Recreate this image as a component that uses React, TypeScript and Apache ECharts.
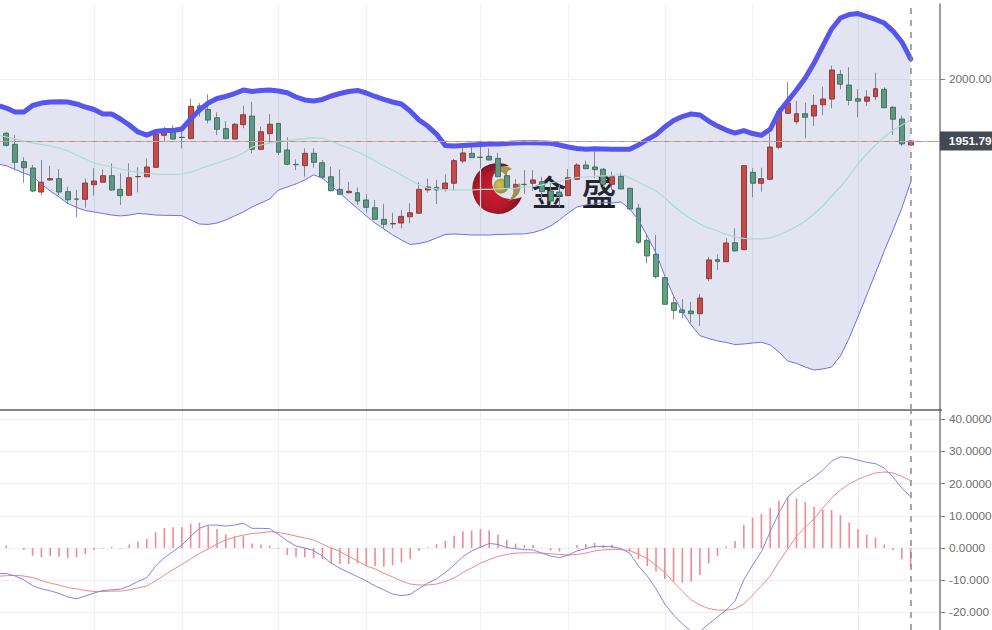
import React, { useEffect, useRef } from "react";
import * as echarts from "echarts";

// [open, close, low, high]
const candles: number[][] = [
  [1959.6,1957.2,1955.7,1961.1],[1957.8,1948.4,1947.4,1959.0],[1949.2,1935.2,1929.2,1956.4],[1935.7,1931.0,1919.4,1939.1],
  [1930.8,1912.9,1911.9,1933.1],[1912.1,1919.7,1909.6,1937.0],[1921.5,1922.5,1920.9,1932.6],[1922.5,1912.1,1909.8,1930.0],
  [1912.4,1906.1,1902.8,1916.2],[1906.7,1906.5,1892.5,1913.7],[1906.4,1919.1,1899.9,1922.5],[1917.8,1920.7,1909.3,1930.6],
  [1919.7,1924.8,1919.4,1929.8],[1924.8,1913.7,1913.1,1934.4],[1914.2,1909.3,1902.0,1926.7],[1909.6,1923.2,1909.3,1934.4],
  [1924.0,1924.2,1911.9,1931.3],[1924.0,1931.6,1923.6,1938.3],[1931.3,1957.0,1930.8,1957.8],[1956.2,1959.8,1951.8,1962.9],
  [1960.3,1953.3,1952.6,1964.2],[1954.7,1954.5,1946.1,1962.7],[1953.6,1978.8,1953.3,1984.4],[1979.0,1975.4,1970.7,1981.3],
  [1976.4,1968.1,1965.5,1988.1],[1969.9,1960.9,1956.4,1974.1],[1961.4,1953.6,1953.1,1967.3],[1953.3,1964.8,1953.1,1965.8],
  [1964.5,1972.2,1961.7,1979.2],[1971.2,1945.3,1942.2,1982.3],[1945.3,1959.0,1944.8,1962.9],[1957.5,1964.8,1950.0,1972.6],
  [1965.5,1943.0,1940.9,1965.8],[1944.8,1933.7,1932.9,1954.7],[1933.6,1933.3,1929.2,1937.5],[1932.6,1942.2,1924.0,1946.1],
  [1942.2,1935.2,1931.0,1946.1],[1934.9,1923.6,1922.0,1937.0],[1924.0,1913.1,1912.7,1931.8],[1914.2,1910.3,1909.8,1929.8],
  [1911.6,1912.7,1911.1,1919.9],[1911.6,1905.1,1902.0,1915.5],[1905.9,1900.2,1896.0,1910.6],[1899.9,1890.9,1890.4,1905.9],
  [1890.9,1887.0,1883.9,1902.8],[1887.3,1887.7,1883.9,1896.0],[1888.0,1893.2,1883.9,1898.1],[1892.9,1896.0,1887.8,1903.3],
  [1895.6,1914.2,1895.3,1919.7],[1913.7,1916.0,1911.6,1922.5],[1915.8,1913.7,1902.8,1921.5],[1914.5,1919.1,1912.4,1925.9],
  [1918.9,1936.5,1913.1,1937.8],[1936.2,1942.5,1934.4,1948.7],[1942.2,1938.8,1938.6,1950.2],[1939.2,1939.0,1930.6,1952.0],
  [1939.9,1937.0,1936.5,1946.1],[1938.3,1924.0,1923.6,1942.5],[1924.8,1915.5,1914.2,1926.7],[1915.5,1918.1,1912.4,1922.2],
  [1918.1,1917.9,1910.6,1929.2],[1918.9,1921.5,1913.1,1929.2],[1920.1,1912.4,1905.9,1924.0],[1912.9,1905.1,1901.2,1919.1],
  [1912.1,1909.0,1900.4,1917.6],[1909.3,1923.2,1909.0,1930.0],[1922.0,1933.1,1921.5,1934.7],[1933.1,1930.3,1929.8,1936.5],
  [1931.6,1929.5,1922.8,1943.5],[1929.8,1918.1,1916.2,1930.8],[1918.1,1924.0,1913.7,1927.9],[1924.3,1914.5,1914.2,1927.1],
  [1915.0,1898.9,1898.1,1915.5],[1899.5,1873.0,1871.7,1902.8],[1874.6,1862.4,1856.7,1878.7],[1863.7,1846.3,1844.7,1878.7],
  [1845.5,1824.8,1824.5,1846.3],[1826.0,1820.1,1813.1,1830.7],[1820.4,1818.3,1813.9,1828.9],[1819.6,1817.5,1810.5,1826.8],
  [1817.5,1829.7,1807.9,1832.8],[1844.7,1859.3,1842.9,1861.8],[1859.5,1858.2,1851.5,1863.7],[1857.9,1872.5,1857.5,1876.1],
  [1872.7,1866.3,1865.7,1883.9],[1867.3,1932.6,1867.0,1933.1],[1927.4,1918.9,1908.0,1930.6],[1918.9,1922.5,1912.4,1931.0],
  [1922.0,1947.1,1921.5,1957.8],[1946.9,1974.6,1945.3,1977.2],[1973.3,1981.1,1972.8,1997.9],[1966.8,1973.0,1964.8,1983.1],
  [1973.0,1970.2,1953.9,1981.6],[1971.2,1979.5,1963.5,1987.6],[1980.0,1984.4,1971.8,1994.0],[1984.4,2007.0,1977.2,2010.3],
  [2003.6,1995.9,1992.0,2007.0],[1995.3,1983.4,1979.5,2009.1],[1984.7,1982.7,1970.2,1992.2],[1982.7,1986.0,1979.0,1991.2],
  [1986.2,1992.5,1983.7,2004.9],[1992.0,1977.7,1977.2,1993.5],[1978.0,1968.7,1956.5,1979.0],[1968.9,1949.5,1947.9,1971.5],
  [1948.7,1951.79,1948.1,1952.6],
];

const upperBand = [
  1979.4,1977.4,1974.3,1974.3,1979.4,1981.3,1982.1,1982.3,1982.1,1980.6,1978.2,1976.3,1972.8,1972.8,1968.9,1964.2,1958.8,1956.4,1959.2,1959.9,
  1959.9,1961.1,1968.9,1975.9,1981.3,1984.8,1986.4,1988.7,1991.4,1990.3,1991.1,1991.4,1990.7,1989.3,1986.0,1983.7,1982.9,1984.1,1986.8,1988.7,
  1990.3,1991.1,1989.1,1986.4,1984.1,1982.1,1980.6,1975.1,1968.1,1963.4,1957.2,1948.3,1947.9,1948.3,1948.7,1949.1,1949.5,1949.5,1949.9,1950.2,
  1950.5,1950.5,1950.2,1950.0,1948.7,1947.1,1945.9,1945.3,1945.8,1945.6,1945.3,1945.3,1945.3,1948.7,1952.9,1956.8,1962.7,1967.7,1970.8,1972.8,
  1972.0,1967.3,1963.4,1960.3,1958.0,1959.9,1957.6,1956.2,1960.9,1974.3,1982.9,1991.4,2000.8,2012.4,2025.7,2038.9,2047.4,2050.2,2050.9,2048.6,
  2046.3,2043.5,2037.3,2028.8,2015.6,
];
const lowerBand = [
  1933.9,1932.6,1929.6,1926.9,1924.2,1918.4,1912.9,1908.3,1903.2,1900.1,1897.7,1896.6,1895.4,1894.2,1893.5,1894.2,1895.4,1895.0,1894.2,1894.0,
  1893.9,1893.7,1890.4,1887.2,1886.9,1888.0,1890.4,1893.5,1896.6,1900.5,1903.6,1906.7,1913.7,1916.0,1918.4,1921.5,1925.4,1923.0,1916.8,1911.4,
  1905.1,1899.3,1893.5,1888.0,1883.4,1878.7,1874.8,1871.3,1872.1,1873.6,1876.4,1879.1,1879.5,1879.1,1878.7,1878.7,1878.7,1879.1,1879.2,1879.5,
  1879.5,1880.6,1882.6,1885.7,1890.4,1895.8,1900.5,1902.0,1902.8,1904.0,1903.6,1904.4,1898.9,1890.4,1877.9,1864.7,1846.8,1831.3,1818.8,1808.7,
  1800.4,1798.2,1796.3,1795.1,1793.5,1793.9,1794.7,1795.3,1793.2,1787.7,1780.7,1778.8,1776.0,1773.7,1774.5,1776.0,1784.6,1798.6,1815.0,1832.0,
  1849.1,1866.3,1882.6,1899.7,1919.9,
];
const middleBand = [
  1956.4,1954.9,1953.3,1951.8,1950.2,1949.1,1947.9,1946.3,1944.0,1940.9,1937.8,1934.7,1933.1,1931.6,1930.0,1928.5,1927.3,1926.5,1926.1,1925.9,
  1925.9,1926.1,1927.7,1930.0,1932.4,1934.7,1937.0,1939.3,1942.5,1947.1,1948.7,1950.2,1951.4,1952.2,1952.9,1953.7,1954.4,1953.9,1951.8,1948.7,
  1946.3,1943.2,1940.1,1936.2,1932.4,1929.2,1925.3,1921.5,1917.6,1915.2,1914.5,1913.7,1913.7,1913.7,1913.7,1914.1,1914.2,1914.5,1914.9,1915.2,
  1916.0,1916.2,1917.6,1919.1,1920.7,1922.2,1923.4,1923.8,1924.2,1924.6,1924.9,1926.1,1923.0,1919.9,1916.4,1912.9,1907.5,1901.2,1895.8,1891.1,
  1887.2,1884.1,1881.8,1879.1,1877.1,1876.0,1875.6,1875.6,1876.4,1878.7,1881.8,1885.3,1889.6,1895.0,1901.2,1909.0,1916.2,1924.6,1933.9,1941.7,
  1948.7,1954.9,1960.3,1964.2,1968.1,
];
const difLine = [
  -8.0,-7.9,-8.7,-9.9,-11.7,-12.7,-13.3,-14.1,-15.2,-15.8,-14.9,-14.0,-13.2,-13.0,-12.8,-11.8,-10.4,-9.2,-5.6,-3.0,
  -1.1,0.9,3.6,6.1,7.1,7.1,6.8,7.1,7.7,6.1,6.1,6.0,4.2,2.2,0.6,0,-0.8,-2.5,-4.7,-6.3,
  -7.6,-8.9,-10.2,-11.8,-13.0,-14.3,-14.8,-14.4,-12.6,-10.9,-9.6,-7.6,-5.3,-2.7,-0.9,0.3,1.4,1.1,0.1,-0.2,
  -0.5,-0.6,-1.6,-2.5,-3.0,-2.2,-0.9,-0.2,0.5,0.5,0.4,-0.2,-1.6,-5.6,-8.7,-12.7,-17.4,-20.8,-23.6,-25.8,
  -25.9,-23.6,-21.4,-19.3,-16.5,-9.9,-5.3,-1.2,5.0,10.9,15.8,18.3,20.2,22.0,24.2,27.0,28.3,28.0,27.3,26.6,
  26.2,24.8,22.0,18.6,15.9,
];
const deaLine = [
  -8.8,-8.6,-8.5,-8.7,-9.2,-10.1,-10.9,-11.5,-12.3,-12.7,-13.2,-13.5,-13.5,-13.4,-13.4,-13.0,-12.4,-11.8,-10.2,-8.4,
  -6.7,-5.1,-3.4,-1.7,-0.3,1.2,2.5,3.4,4.0,4.5,4.7,5.1,4.8,4.3,3.7,3.1,2.5,1.2,0,-1.1,
  -2.6,-4.0,-5.6,-6.5,-7.8,-9.0,-10.2,-11.2,-11.5,-11.5,-11.2,-10.4,-9.3,-7.6,-6.2,-4.7,-3.6,-2.6,-2.0,-1.6,
  -1.5,-1.5,-1.6,-1.8,-2.0,-2.2,-2.0,-1.6,-0.9,-0.6,-0.4,-0.5,-0.8,-1.9,-3.3,-5.4,-7.6,-10.6,-13.4,-16.1,
  -17.7,-18.8,-19.3,-19.3,-18.9,-17.4,-14.6,-11.8,-8.7,-4.3,-0.3,3.6,6.5,9.0,12.4,15.5,18.0,19.9,21.3,22.4,
  23.3,23.6,23.3,22.2,20.9,
];
const histogram = [
  0,0.8,0,-0.6,-2.4,-2.9,-2.5,-2.7,-3.2,-2.9,-1.9,-0.6,-0.2,0.4,-0.2,1.1,2.0,2.8,4.9,6.2,
  6.4,6.4,7.5,7.9,6.9,5.9,4.2,3.5,3.7,1.4,1.1,0.8,-0.3,-2.2,-2.9,-2.9,-3.2,-3.5,-4.8,-5.0,
  -5.0,-4.8,-5.5,-5.6,-5.8,-5.4,-4.5,-3.5,-0.9,0.2,1.2,2.2,3.8,5.2,5.4,5.9,5.5,4.2,2.5,1.4,
  0.9,0.9,0.1,-0.8,-1.1,-0.1,0.9,1.2,1.6,0.9,1.0,0.1,-1.1,-3.5,-5.6,-7.3,-9.6,-10.5,-10.8,-10.4,
  -8.4,-4.8,-2.5,0.4,2.2,7.1,9.4,10.6,12.4,14.7,15.9,15.4,14.2,12.7,11.8,11.8,10.2,7.9,5.9,4.1,
  3.2,1.1,-0.7,-3.5,-6.0,
];

const lastPrice = 1951.79;
const lastIndex = candles.length - 1;
const categories = Array.from({ length: candles.length + 3 }, (_, i) => String(i));
const verticalGridIndices = [11, 21, 32, 42, 55, 65, 76, 86, 98];
const priceTicks = [2000];
const macdTicks = [-20, -10, 0, 10, 20, 30, 40];

const crescent =
  "M509 165.5 A25.5 25.5 0 1 0 521.8 197 C506 203 491 195 492 180 C492.7 172 500 167.5 509 165.5 Z";
const swooshTop =
  "M494 172 C499 165 507 165 512 169 C509 170 507 171 506 176 C504 172 499 170 494 172 Z";
const swooshBottom =
  "M520 183 C522 191 517 199 508 201 C513 197 514 192 513 187 C515 187 518 185 520 183 Z";
echarts.graphic.registerShape("jsCrescent", echarts.graphic.extendPath(crescent, {}));
echarts.graphic.registerShape("jsSwooshTop", echarts.graphic.extendPath(swooshTop, {}));
echarts.graphic.registerShape("jsSwooshBottom", echarts.graphic.extendPath(swooshBottom, {}));

const FONT = "Liberation Sans";
const gold = new echarts.graphic.LinearGradient(0, 0, 1, 1, [
  { offset: 0, color: "#c6b25a" },
  { offset: 1, color: "#a88d1e" },
]);

export default function App() {
  const ref = useRef<HTMLDivElement>(null);
  useEffect(() => {
    document.body.style.margin = "0";
    const chart = echarts.init(ref.current!, null, { renderer: "svg" });
    const splitX = {
      show: true,
      alignWithLabel: true,
      interval: (i: number) => verticalGridIndices.includes(i),
      lineStyle: { color: "#eef0f4", width: 1.2 },
    };
    const cursorLine = {
      silent: true,
      symbol: "none",
      animation: false,
      label: { show: false },
      lineStyle: { color: "#8a8a8a", type: [6, 6], width: 1.5 },
      data: [{ xAxis: String(lastIndex) }],
    };
    const yCommon = {
      type: "value",
      position: "right",
      offset: -1.37,
      axisLine: { show: true, onZero: false, lineStyle: { color: "#7d7d7d", width: 1.5 } },
      axisLabel: { color: "#6e6e6e", fontFamily: FONT, fontSize: 11.8, margin: 9 },
    };
    chart.setOption({
      animation: false,
      backgroundColor: "#ffffff",
      grid: [
        { left: -6.87, top: 4, width: 948.24, height: 406, outerBoundsMode: "none" },
        { left: -6.87, top: 410, width: 948.24, height: 220, outerBoundsMode: "none" },
      ],
      xAxis: [
        {
          type: "category",
          data: categories,
          gridIndex: 0,
          boundaryGap: true,
          axisLine: { show: true, lineStyle: { color: "#5c5c5c", width: 1.5 } },
          axisTick: { show: false, alignWithLabel: true },
          axisLabel: { show: false },
          splitLine: splitX,
        },
        {
          type: "category",
          data: categories,
          gridIndex: 1,
          boundaryGap: true,
          axisLine: { show: false },
          axisTick: { show: false, alignWithLabel: true },
          axisLabel: { show: false },
          splitLine: splitX,
        },
      ],
      yAxis: [
        {
          ...yCommon,
          gridIndex: 0,
          min: 1742.6,
          max: 2058.32,
          axisTick: { show: true, length: 5, customValues: priceTicks, lineStyle: { color: "#7d7d7d" } },
          axisLabel: { ...yCommon.axisLabel, customValues: priceTicks, formatter: (v: number) => v.toFixed(2) },
          splitLine: { show: true, lineStyle: { color: "#eef0f3", width: 1 } },
        },
        {
          ...yCommon,
          gridIndex: 1,
          min: -25.47,
          max: 42.85,
          axisTick: { show: true, length: 5, customValues: macdTicks, lineStyle: { color: "#7d7d7d" } },
          axisLabel: {
            ...yCommon.axisLabel,
            customValues: macdTicks,
            formatter: (v: number) => (v < 0 ? v.toFixed(3) : v.toFixed(4)),
          },
          splitLine: { show: true, lineStyle: { color: "#eef0f3", width: 1 } },
        },
      ],
      series: [
        {
          type: "line",
          name: "bandBase",
          stack: "band",
          data: lowerBand,
          symbol: "none",
          lineStyle: { opacity: 0 },
          areaStyle: { opacity: 0 },
        },
        {
          type: "line",
          name: "bandFill",
          stack: "band",
          data: upperBand.map((u, i) => +(u - lowerBand[i]).toFixed(2)),
          symbol: "none",
          lineStyle: { opacity: 0 },
          areaStyle: { color: "rgba(78,84,170,0.16)", opacity: 1 },
        },
        {
          type: "line",
          name: "lower",
          data: lowerBand,
          symbol: "none",
          lineStyle: { color: "#6f70e2", width: 1 },
        },
        {
          type: "line",
          name: "middle",
          data: middleBand,
          symbol: "none",
          lineStyle: { color: "#a9dcd2", width: 1.2 },
        },
        {
          type: "line",
          name: "upper",
          data: upperBand,
          symbol: "none",
          lineStyle: { color: "#5656ee", width: 5, cap: "round", join: "round" },
          markLine: {
            silent: true,
            symbol: "none",
            animation: false,
            lineStyle: { color: "#e6a39a", type: "solid", width: 1 },
            label: { show: false },
            data: [{ yAxis: lastPrice }],
          },
        },
        {
          type: "line",
          name: "lastPriceDash",
          data: [],
          markLine: {
            silent: true,
            symbol: "none",
            animation: false,
            lineStyle: { color: "#9a9a9a", type: [5, 6], width: 1 },
            label: {
              show: true,
              position: "end",
              distance: -1.5,
              formatter: () => lastPrice.toFixed(2),
              color: "#ffffff",
              fontFamily: FONT,
              fontWeight: "bold",
              fontSize: 11.8,
              backgroundColor: "#444a55",
              padding: [4, 2, 3, 9],
            },
            data: [{ yAxis: lastPrice }],
          },
        },
        {
          type: "candlestick",
          name: "wick",
          data: candles,
          barWidth: 1,
          itemStyle: { color: "#8f8f8f", color0: "#8f8f8f", borderColor: "#8f8f8f", borderColor0: "#8f8f8f", borderWidth: 1 },
        },
        {
          type: "candlestick",
          name: "body",
          data: candles.map(([o, c]) => [o, c, Math.min(o, c), Math.max(o, c)]),
          barWidth: 5.4,
          itemStyle: { color: "#dc4a34", color0: "#62a37e", borderColor: "#8a3026", borderColor0: "#35704f", borderWidth: 0.9 },
          markLine: cursorLine,
        },
        {
          type: "bar",
          name: "MACD",
          xAxisIndex: 1,
          yAxisIndex: 1,
          data: histogram,
          barWidth: 1.6,
          itemStyle: { color: "#f28a96" },
        },
        {
          type: "line",
          name: "DEA",
          xAxisIndex: 1,
          yAxisIndex: 1,
          data: deaLine,
          symbol: "none",
          lineStyle: { color: "#ee8888", width: 1 },
        },
        {
          type: "line",
          name: "DIF",
          xAxisIndex: 1,
          yAxisIndex: 1,
          data: difLine,
          symbol: "none",
          lineStyle: { color: "#8484e6", width: 1 },
          markLine: cursorLine,
        },
      ],
      graphic: [
        {
          type: "group",
          z: 100,
          children: [
            {
              type: "jsCrescent",
              x: 0,
              y: 0,
              style: {
                fill: new echarts.graphic.RadialGradient(0.45, 0.55, 0.6, [
                  { offset: 0, color: "#e8141a" },
                  { offset: 0.6, color: "#c40c12" },
                  { offset: 1, color: "#6e0a0c" },
                ]),
              },
            },
            { type: "jsSwooshTop", x: 0, y: 0, style: { fill: gold } },
            { type: "jsSwooshBottom", x: 0, y: 0, style: { fill: gold } },
            {
              type: "circle",
              shape: { cx: 501, cy: 186, r: 7.5 },
              style: {
                fill: new echarts.graphic.RadialGradient(0.4, 0.4, 0.7, [
                  { offset: 0, color: "#ecd94a" },
                  { offset: 1, color: "#ad8a12" },
                ]),
              },
            },
            {
              type: "text",
              x: 549,
              y: 190,
              style: {
                text: "金",
                fontFamily: "Noto Sans CJK SC",
                fontSize: 35,
                fontWeight: 500,
                fill: "#1c1c1c",
                align: "center",
                verticalAlign: "middle",
              },
            },
            {
              type: "text",
              x: 599,
              y: 190,
              style: {
                text: "盛",
                fontFamily: "Noto Sans CJK SC",
                fontSize: 35,
                fontWeight: 500,
                fill: "#1c1c1c",
                align: "center",
                verticalAlign: "middle",
              },
            },
          ],
        },
      ],
    });
    return () => chart.dispose();
  }, []);
  return (
    <div
      ref={ref}
      style={{ position: "absolute", left: 0, top: 0, width: 992, height: 630, background: "#fff" }}
    />
  );
}
